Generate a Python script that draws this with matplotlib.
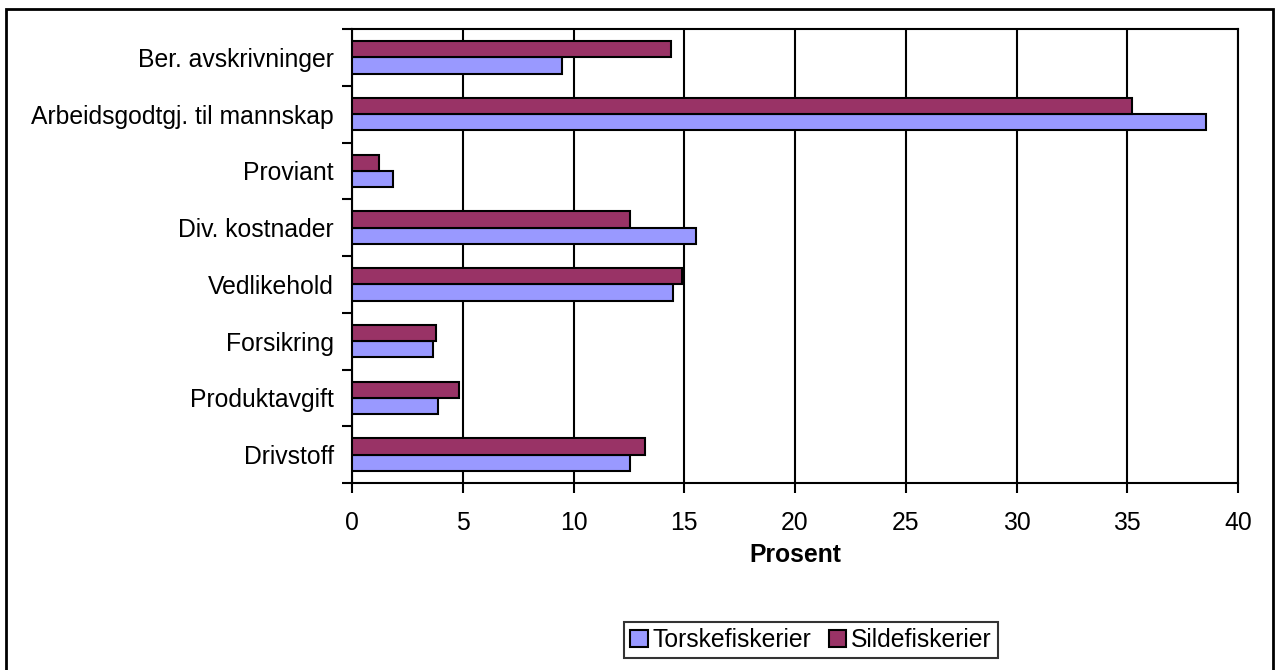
import numpy as np
import matplotlib
matplotlib.use("Agg")
from matplotlib import pyplot as plt
from matplotlib.patches import Rectangle

# Kostnadsposter, nederst først
categories = ["Drivstoff", "Produktavgift", "Forsikring", "Vedlikehold",
              "Div. kostnader", "Proviant", "Arbeidsgodtgj. til mannskap",
              "Ber. avskrivninger"]
torske = [12.55, 3.9, 3.65, 14.5, 15.55, 1.85, 38.55, 9.5]
silde = [13.25, 4.85, 3.8, 14.9, 12.55, 1.2, 35.2, 14.4]
x_ticks = [0, 5, 10, 15, 20, 25, 30, 35, 40]

plt.rcParams['font.family'] = ['Liberation Sans', 'DejaVu Sans']
fs = 17.8

fig = plt.figure(figsize=(12.76, 6.70), dpi=100)
ax = fig.add_axes([352/1276, 1 - 483/670, (1238 - 352)/1276, (483 - 29)/670])

y = np.arange(len(categories))
h = 1 / 3.5
ax.barh(y - h/2, torske, height=h, color="#9999FF", edgecolor="black",
        linewidth=1.5, label="Torskefiskerier", zorder=3)
ax.barh(y + h/2, silde, height=h, color="#993366", edgecolor="black",
        linewidth=1.5, label="Sildefiskerier", zorder=3)

ax.set_xlim(0, 40)
ax.set_ylim(-0.5, len(categories) - 0.5)
ax.set_xticks(x_ticks)
ax.tick_params(axis="x", labelsize=fs, length=7, width=1.5, pad=13)
ax.grid(axis="x", color="black", linewidth=1.5, zorder=1)

# kategorigrenser som hovedmerker, navn som mindre merker
ax.set_yticks(np.arange(len(categories) + 1) - 0.5)
ax.set_yticklabels([])
ax.set_yticks(y, minor=True)
ax.set_yticklabels(categories, minor=True)
ax.tick_params(axis="y", which="major", length=7, width=1.5)
ax.tick_params(axis="y", which="minor", length=0, labelsize=fs, pad=13)

for s in ax.spines.values():
    s.set_linewidth(1.5)

ax.set_xlabel("Prosent", fontsize=fs, fontweight="bold", labelpad=6)

leg = fig.legend(loc="center", bbox_to_anchor=(811/1276, 1 - 640/670),
                 ncol=2, fontsize=fs, frameon=True, fancybox=False,
                 edgecolor="black", handlelength=0.7, handleheight=0.7,
                 handletextpad=0.2, columnspacing=0.7, borderpad=0.25,
                 borderaxespad=0)
leg.get_frame().set_linewidth(1.5)

fig.patches.append(Rectangle((6/1276, -0.05), (1273 - 6)/1276, 1.05 - 9/670,
                             transform=fig.transFigure, fill=False,
                             edgecolor="black", linewidth=2))

fig.savefig("out.png", dpi=100)
